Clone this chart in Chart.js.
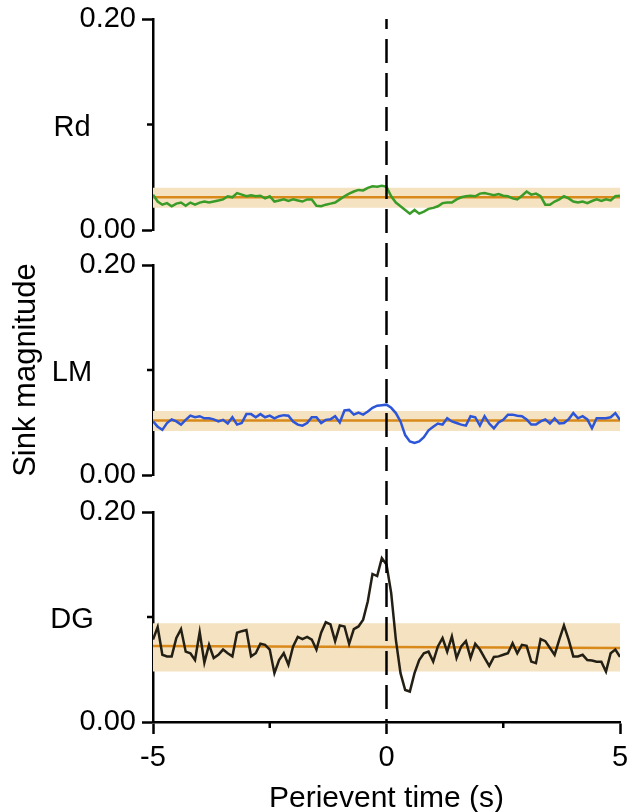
<!DOCTYPE html>
<html>
<head>
<meta charset="utf-8">
<script src="https://cdn.jsdelivr.net/npm/chart.js@4.4.1/dist/chart.umd.min.js"></script>
<style>
  html, body { margin: 0; padding: 0; background: #fff; }
  #wrap { position: relative; width: 629px; height: 812px; }
  canvas { position: absolute; left: 0; }
</style>
</head>
<body>
<div id="wrap">
  <canvas id="chartRd" width="629" height="248" style="top:0px"></canvas>
  <canvas id="chartLM" width="629" height="246" style="top:248px"></canvas>
  <canvas id="chartDG" width="629" height="318" style="top:494px"></canvas>
</div>
<script>
// 區域名稱與刻度
const regions = ['Rd', 'LM', 'DG'];
const xTicks = [-5, -2.5, 0, 2.5, 5];
const xLabels = ['-5', '', '0', '', '5'];
const yTicks = [0, 0.1, 0.2];
const yLabels = ['0.00', '', '0.20'];
const bandTimes = [-5, 5];

// 各區域的 sink magnitude (每 0.1 s 一點, -5 到 5 s)
const rdTrace = [
  0.0335, 0.027, 0.024, 0.0255, 0.0225, 0.025, 0.026, 0.023, 0.026, 0.024,
  0.026, 0.027, 0.026, 0.027, 0.028, 0.029, 0.032, 0.031, 0.035, 0.0335,
  0.032, 0.033, 0.032, 0.0325, 0.030, 0.032, 0.027, 0.028, 0.029, 0.0275,
  0.029, 0.028, 0.027, 0.029, 0.029, 0.023, 0.0225, 0.024, 0.025, 0.026,
  0.029, 0.032, 0.0345, 0.0365, 0.038, 0.0375, 0.040, 0.0415, 0.041, 0.042,
  0.041, 0.032, 0.026, 0.0225, 0.019, 0.0155, 0.019, 0.0155, 0.0175, 0.020,
  0.021, 0.0225, 0.0255, 0.026, 0.026, 0.029, 0.031, 0.032, 0.0325, 0.032,
  0.0345, 0.035, 0.034, 0.033, 0.034, 0.0325, 0.032, 0.030, 0.029, 0.0325,
  0.0365, 0.0335, 0.0345, 0.032, 0.024, 0.024, 0.027, 0.029, 0.032, 0.030,
  0.027, 0.026, 0.027, 0.0255, 0.0275, 0.029, 0.0275, 0.029, 0.028, 0.032,
  0.0325
];
const lmTrace = [
  0.051, 0.046, 0.043, 0.0495, 0.053, 0.051, 0.048, 0.0525, 0.0565, 0.055,
  0.056, 0.054, 0.054, 0.053, 0.051, 0.0525, 0.049, 0.055, 0.048, 0.0495,
  0.058, 0.058, 0.055, 0.058, 0.055, 0.0565, 0.054, 0.056, 0.057, 0.0565,
  0.051, 0.048, 0.047, 0.0495, 0.055, 0.055, 0.0495, 0.0525, 0.053, 0.056,
  0.050, 0.0615, 0.062, 0.0575, 0.0595, 0.0575, 0.0605, 0.064, 0.066, 0.0665,
  0.067, 0.064, 0.059, 0.051, 0.038, 0.032, 0.0305, 0.032, 0.036, 0.0425,
  0.046, 0.049, 0.048, 0.054, 0.051, 0.0495, 0.048, 0.047, 0.056, 0.055,
  0.047, 0.056, 0.049, 0.0445, 0.050, 0.0525, 0.0575, 0.0575, 0.0565, 0.056,
  0.053, 0.048, 0.048, 0.051, 0.053, 0.049, 0.054, 0.049, 0.0495, 0.053,
  0.059, 0.054, 0.056, 0.053, 0.0445, 0.054, 0.054, 0.054, 0.055, 0.059,
  0.0525
];
const dgTrace = [
  0.0785, 0.0905, 0.064, 0.0625, 0.0625, 0.080, 0.0885, 0.067, 0.0655, 0.059,
  0.0855, 0.0565, 0.0735, 0.061, 0.064, 0.069, 0.0655, 0.0625, 0.085, 0.0865,
  0.0875, 0.0625, 0.0655, 0.0745, 0.0735, 0.069, 0.0465, 0.059, 0.0655, 0.0545,
  0.072, 0.081, 0.079, 0.081, 0.0785, 0.069, 0.085, 0.095, 0.093, 0.077,
  0.092, 0.091, 0.0745, 0.0885, 0.091, 0.0975, 0.115, 0.141, 0.139, 0.156,
  0.150, 0.123, 0.0785, 0.0465, 0.0305, 0.029, 0.0465, 0.059, 0.0655, 0.067,
  0.0575, 0.072, 0.080, 0.067, 0.0815, 0.061, 0.072, 0.077, 0.061, 0.0745,
  0.069, 0.061, 0.0535, 0.062, 0.0625, 0.064, 0.0655, 0.075, 0.0655, 0.0735,
  0.0725, 0.0575, 0.056, 0.079, 0.077, 0.0705, 0.064, 0.0785, 0.092, 0.0785,
  0.0625, 0.0625, 0.064, 0.059, 0.0585, 0.0575, 0.0575, 0.048, 0.0655, 0.069,
  0.062
];

// shuffle 平均值與範圍 (在 -5 與 5 s)
const rdMean = [0.031, 0.031];
const rdLow = [0.021, 0.021];
const rdHigh = [0.040, 0.040];
const lmMean = [0.052, 0.052];
const lmLow = [0.042, 0.042];
const lmHigh = [0.061, 0.061];
const dgMean = [0.0725, 0.0705];
const dgLow = [0.048, 0.048];
const dgHigh = [0.094, 0.094];

const times = rdTrace.map((_, i) => Math.round((-5 + i * 0.1) * 10) / 10);
const FONT = '"Liberation Sans", Arial, sans-serif';
Chart.defaults.font.family = FONT;
Chart.defaults.color = '#000';

function toPoints(xs, ys) {
    return ys.map((y, i) => ({ x: xs[i], y: y }));
}

// 畫 0 秒的虛線, 以及短的次刻度和區域名稱
const extrasPlugin = {
    id: 'extras',
    afterDatasetsDraw(chart, args, opts) {
        const ctx = chart.ctx;
        const area = chart.chartArea;
        const x = chart.scales.x.getPixelForValue(0);
        const y0 = opts.fromTop ? 0 : area.top;
        const y1 = opts.toBottom ? chart.height : area.bottom;
        ctx.save();
        ctx.strokeStyle = '#000';
        ctx.lineWidth = 2.5;
        ctx.setLineDash([24, 10]);
        ctx.lineDashOffset = (((opts.canvasTop + y0 - 5) % 34) + 34) % 34;
        ctx.beginPath();
        ctx.moveTo(x, y0);
        ctx.lineTo(x, y1);
        ctx.stroke();
        ctx.restore();
    },
    afterDraw(chart, args, opts) {
        const ctx = chart.ctx;
        const ys = chart.scales.y;
        ctx.save();
        ctx.strokeStyle = '#000';
        ctx.lineWidth = 2.5;
        ctx.beginPath();
        const ym = ys.getPixelForValue(0.1);
        ctx.moveTo(ys.right - 6, ym);
        ctx.lineTo(ys.right, ym);
        if (opts.showX) {
            const xs = chart.scales.x;
            [-2.5, 2.5].forEach(v => {
                const px = xs.getPixelForValue(v);
                ctx.moveTo(px, xs.top);
                ctx.lineTo(px, xs.top + 6);
            });
        }
        ctx.stroke();
        ctx.fillStyle = '#000';
        ctx.font = '29px ' + FONT;
        ctx.textAlign = 'center';
        ctx.textBaseline = 'middle';
        ctx.fillText(opts.region, 72, ym + 3);
        ctx.restore();
    }
};

function makePanel(id, region, trace, mean, low, high, color, cfg) {
    const ctx = document.getElementById(id).getContext('2d');
    return new Chart(ctx, {
        type: 'line',
        data: {
            datasets: [
                { data: toPoints(times, trace), borderColor: color, borderWidth: 2.5, pointRadius: 0, fill: false },
                { data: toPoints(bandTimes, mean), borderColor: '#d9891a', borderWidth: 2.5, pointRadius: 0, fill: false },
                { data: toPoints(bandTimes, low), borderWidth: 0, borderColor: 'rgba(0,0,0,0)', pointRadius: 0, fill: false },
                { data: toPoints(bandTimes, high), borderWidth: 0, borderColor: 'rgba(0,0,0,0)', pointRadius: 0,
                  fill: '-1', backgroundColor: '#f4e2c0' }
            ]
        },
        options: {
            responsive: false,
            animation: false,
            layout: { padding: { top: cfg.padTop, bottom: cfg.padBottom, left: 0, right: 9 } },
            plugins: {
                legend: { display: false },
                tooltip: { enabled: false },
                extras: { region: region, showX: cfg.showX, fromTop: cfg.fromTop, toBottom: cfg.toBottom, canvasTop: cfg.canvasTop }
            },
            scales: {
                x: {
                    type: 'linear',
                    min: -5,
                    max: 5,
                    display: cfg.showX,
                    afterBuildTicks: s => { s.ticks = xTicks.map(v => ({ value: v })); },
                    afterFit: s => {
                        if (cfg.showX) {
                            s.height = 90;
                            s.paddingLeft = 0;
                            s.paddingRight = 0;
                        }
                    },
                    grid: {
                        drawOnChartArea: false, drawTicks: true, tickLength: 12, tickWidth: 2.5,
                        tickColor: c => (xLabels[c.index] === '' ? 'rgba(0,0,0,0)' : '#000')
                    },
                    border: { color: '#000', width: 2.5 },
                    ticks: {
                        autoSkip: false, maxRotation: 0, padding: 7,
                        font: { size: 29 },
                        callback: (v, i) => xLabels[i]
                    },
                    title: {
                        display: cfg.showX, text: 'Perievent time (s)',
                        font: { size: 30, lineHeight: 1 }, padding: { top: 0, bottom: -2 }
                    }
                },
                y: {
                    min: 0,
                    max: 0.2,
                    afterBuildTicks: s => { s.ticks = yTicks.map(v => ({ value: v })); },
                    afterFit: s => {
                        s.width = 153;
                        s.paddingTop = 0;
                        s.paddingBottom = 0;
                    },
                    grid: {
                        drawOnChartArea: false, drawTicks: true, tickLength: 11, tickWidth: 2.5,
                        tickColor: c => (yLabels[c.index] === '' ? 'rgba(0,0,0,0)' : '#000')
                    },
                    border: { color: '#000', width: 2.5 },
                    ticks: { autoSkip: false, padding: 6, font: { size: 29 }, callback: (v, i) => yLabels[i] },
                    title: {
                        display: cfg.showTitle, text: 'Sink magnitude',
                        font: { size: 31, lineHeight: 1.2 }, padding: { top: 8, bottom: 0 }
                    }
                }
            }
        },
        plugins: [extrasPlugin]
    });
}

makePanel('chartRd', regions[0], rdTrace, rdMean, rdLow, rdHigh, '#3a9c28',
    { padTop: 19, padBottom: 18, showX: false, showTitle: false, fromTop: false, toBottom: true, canvasTop: 0 });
makePanel('chartLM', regions[1], lmTrace, lmMean, lmLow, lmHigh, '#2d55d8',
    { padTop: 17, padBottom: 19, showX: false, showTitle: true, fromTop: true, toBottom: true, canvasTop: 248 });
makePanel('chartDG', regions[2], dgTrace, dgMean, dgLow, dgHigh, '#231f14',
    { padTop: 18, padBottom: 0, showX: true, showTitle: false, fromTop: true, toBottom: false, canvasTop: 494 });
</script>
</body>
</html>
